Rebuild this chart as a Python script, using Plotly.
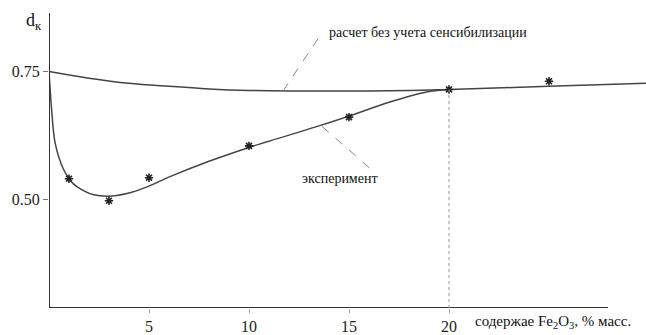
import plotly.graph_objects as go

# calculated curve (without sensitization)
calc_x = [0, 2, 4, 6, 8, 10, 12, 15, 18, 20, 25, 29.85]
calc_y = [0.750, 0.737, 0.727, 0.721, 0.716, 0.713, 0.712, 0.712, 0.713, 0.715, 0.721, 0.727]

# experimental fitted curve
exp_x = [0, 0.13, 0.3, 0.72, 1.22, 2.05, 2.95, 3.9, 4.9, 6.05, 8, 10, 13.5, 15, 17, 19, 20]
exp_y = [0.750, 0.676, 0.612, 0.560, 0.531, 0.512, 0.507, 0.512, 0.525, 0.545, 0.575,
         0.602, 0.644, 0.663, 0.690, 0.711, 0.715]

# experimental points (asterisks)
pts_x = [1, 3, 5, 10, 15, 20, 25]
pts_y = [0.541, 0.498, 0.543, 0.605, 0.661, 0.715, 0.731]

x_ticks = [5, 10, 15, 20]
x_ticklabels = ["5", "10", "15", "20"]
y_ticks = [0.50, 0.75]
y_ticklabels = ["0.50", "0.75"]

FONT = "Liberation Serif, Times New Roman, DejaVu Serif, serif"
LINE = "#444444"

# plot area in pixels
L, R, T, B = 49, 646, 13, 310


def px_x(px):
    return (px - L) / (R - L)


def px_y(py):
    return (B - py) / (B - T)


fig = go.Figure()
fig.add_trace(go.Scatter(x=calc_x, y=calc_y, mode="lines",
                         line=dict(color=LINE, width=1.5, shape="spline", smoothing=1.0),
                         hoverinfo="skip"))
fig.add_trace(go.Scatter(x=exp_x, y=exp_y, mode="lines",
                         line=dict(color=LINE, width=1.5, shape="spline", smoothing=0.8),
                         hoverinfo="skip"))
fig.add_trace(go.Scatter(x=pts_x, y=pts_y, mode="markers",
                         marker=dict(symbol="asterisk-open", size=7, color="#222222",
                                     line=dict(color="#222222", width=1.6)),
                         hoverinfo="skip"))

shapes = [
    # axes
    dict(type="line", xref="x", yref="y", x0=0, x1=27.95, y0=0.289, y1=0.289,
         line=dict(color="#333333", width=2)),
    dict(type="line", xref="x", yref="y", x0=0, x1=0, y0=0.289, y1=0.864,
         line=dict(color="#333333", width=2)),
    # vertical dotted line at 20
    dict(type="line", xref="x", yref="y", x0=20, x1=20, y0=0.289, y1=0.715,
         line=dict(color="#999999", width=1, dash="dot")),
    # leader lines
    dict(type="line", xref="x", yref="y", x0=11.7, x1=13.65, y0=0.712, y1=0.8256,
         line=dict(color="#888888", width=1, dash="dash")),
    dict(type="line", xref="x", yref="y", x0=13.65, x1=16.2, y0=0.643, y1=0.556,
         line=dict(color="#888888", width=1, dash="dash")),
]

annotations = [
    dict(x=13.9, y=0.826, xref="x", yref="y", text="расчет без учета сенсибилизации",
         showarrow=False, xanchor="left", yanchor="middle",
         font=dict(family=FONT, size=14, color="#111111")),
    dict(x=14.55, y=0.541, xref="x", yref="y", text="эксперимент",
         showarrow=False, xanchor="center", yanchor="middle",
         font=dict(family=FONT, size=14, color="#111111")),
    dict(x=px_x(24), y=px_y(22), xref="paper", yref="paper",
         text="d<sub>к</sub>", showarrow=False, xanchor="left", yanchor="middle",
         font=dict(family=FONT, size=18, color="#111111")),
    dict(x=px_x(473), y=px_y(324), xref="paper", yref="paper",
         text="содержае Fe<sub>2</sub>O<sub>3</sub>, % масс.", showarrow=False,
         xanchor="left", yanchor="middle",
         font=dict(family=FONT, size=15, color="#111111")),
]

fig.update_layout(
    width=646, height=335,
    margin=dict(l=L, r=646 - R, t=T, b=335 - B),
    plot_bgcolor="white", paper_bgcolor="white",
    showlegend=False,
    shapes=shapes,
    annotations=annotations,
    xaxis=dict(range=[0, 29.85], showgrid=False, zeroline=False, showline=False,
               tickmode="array", tickvals=x_ticks, ticktext=x_ticklabels,
               ticks="outside", ticklen=4, tickcolor="#aaaaaa", tickwidth=1,
               tickfont=dict(family=FONT, size=16, color="#222222")),
    yaxis=dict(range=[0.289, 0.864], showgrid=False, zeroline=False, showline=False,
               tickmode="array", tickvals=y_ticks, ticktext=y_ticklabels,
               ticks="outside", ticklen=5, tickcolor="#777777", tickwidth=1,
               tickfont=dict(family=FONT, size=16, color="#222222")),
)

fig.write_html("out.html")
